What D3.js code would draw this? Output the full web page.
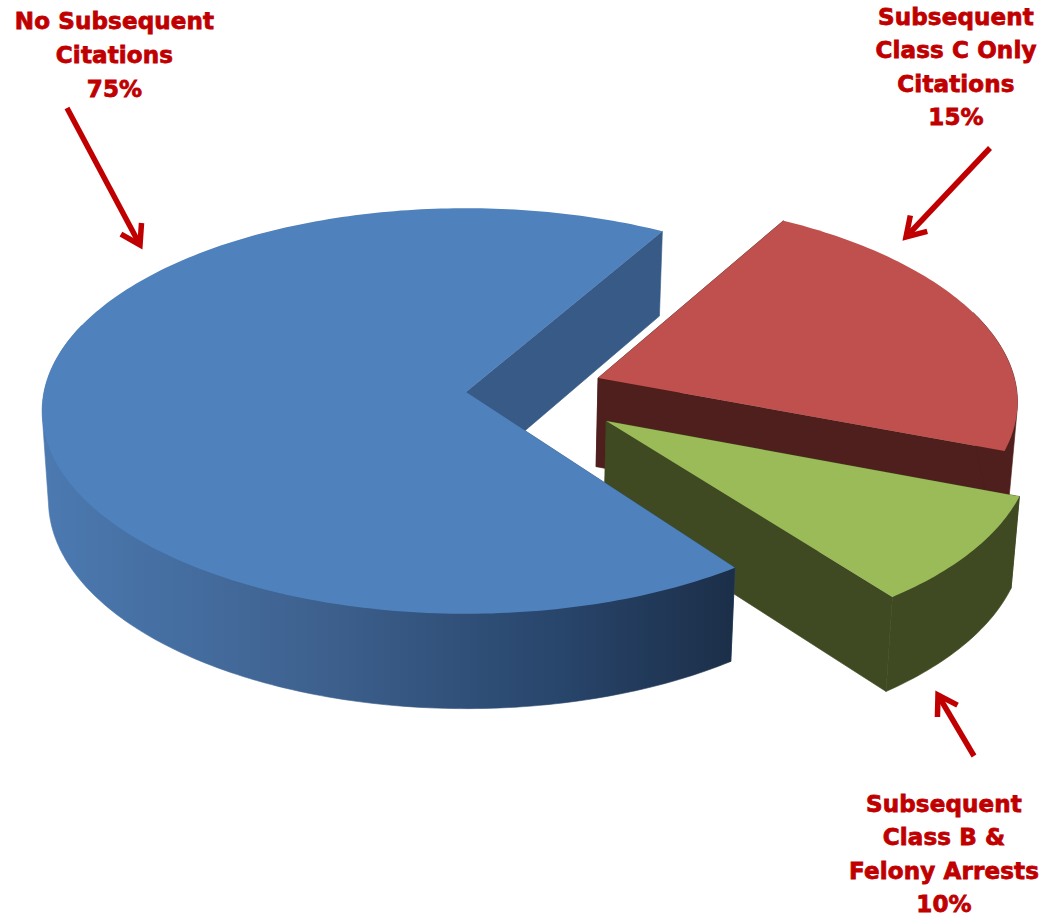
<!DOCTYPE html>
<html>
<head>
<meta charset="utf-8">
<script src="https://cdn.jsdelivr.net/npm/d3@7/dist/d3.min.js"></script>
<style>
html,body{margin:0;padding:0;background:#fff;overflow:hidden}
svg{display:block}
text{font-family:"DejaVu Sans",sans-serif;font-weight:700;font-size:23px;letter-spacing:.15px;fill:#c00000;stroke:#c00000;stroke-width:.8px;text-anchor:middle}
</style>
</head>
<body>
<script>
// Categories, in clockwise drawing order starting from the upper right of the pie
const categories = ["Subsequent Class C Only Citations", "Subsequent Class B & Felony Arrests", "No Subsequent Citations"];
// Printed percentages
const printedPercents = ["15%", "10%", "75%"];
// Share of the circle each slice occupies as drawn in the picture
const drawnShares = [22.3, 8.9, 68.8];
const topColors = ["#c0504d", "#9bbb59", "#4f81bd"];
const sideColors = ["#4f1f1d", "#3f4a22", "url(#blueRim)"];
const cutColors = ["#4f1f1d", "#3f4a22", "#375b86"];
const labelLines = [
  ["Subsequent", "Class C Only", "Citations", "15%"],
  ["Subsequent", "Class B &", "Felony Arrests", "10%"],
  ["No Subsequent", "Citations", "75%"]
];

const W = 1047, H = 923;
const cx = 466, cy = 392, Rx = 422, Ry = 201, camera = 10.68, depth = 89, shrink = 0.015;
const explode = [[0.315, -0.07], [0.328, 0.142], [0, 0]];
const radial = [0.993, 0.988, 1];
const deg = Math.PI / 180;
const angleNudge = [[-0.3, 0], [0, 0], [0.9, -0.5]];

const svg = d3.select("body").append("svg").attr("width", W).attr("height", H);
const defs = svg.append("defs");
const rimStops = [[48, "#4b79b0"], [300, "#3f6391"], [560, "#28456b"], [731, "#1c2f49"]];
const rimX = d3.scaleLinear().domain([48, 731]).range([0, 100]);
const grad = defs.append("linearGradient").attr("id", "blueRim").attr("gradientUnits", "userSpaceOnUse")
  .attr("x1", 48).attr("x2", 731).attr("y1", 0).attr("y2", 0);
rimStops.forEach(s => grad.append("stop").attr("offset", rimX(s[0]) + "%").attr("stop-color", s[1]));

const project = (X, Y, Z) => {
  const s = camera / (camera - Y), sz = 1 - shrink * Z;
  return [cx + Rx * X * s * sz, cy + Ry * Y * s * sz + depth * Z * s];
};

const pie = d3.pie().sort(null).value(d => d).startAngle(30.7 * deg).endAngle(390.7 * deg);
const arcs = pie(drawnShares);
const line = d3.line();

const arcPoints = (a0, a1, off, rr, Z) => {
  const n = Math.max(8, Math.ceil((a1 - a0) / deg));
  return d3.range(n + 1).map(i => {
    const t = a0 + (a1 - a0) * i / n;
    return project(off[0] + rr * Math.sin(t), off[1] - rr * Math.cos(t), Z);
  });
};

// Blue is in front of the two exploded slices, so it is painted last
arcs.forEach((a, i) => {
  const off = explode[i], rr = radial[i];
  const a0 = a.startAngle + angleNudge[i][0] * deg, a1 = a.endAngle + angleNudge[i][1] * deg;
  const g = svg.append("g").attr("class", "slice");
  const topArc = arcPoints(a0, a1, off, rr, 0);
  const apexTop = project(off[0], off[1], 0), apexBot = project(off[0], off[1], 1);
  const first = topArc[0], last = topArc[topArc.length - 1];
  const firstB = arcPoints(a0, a0, off, rr, 1)[0], lastB = arcPoints(a1, a1, off, rr, 1)[0];
  const paintSide = (d, fill) => g.append("path").attr("d", d).attr("fill", fill)
    .attr("stroke", fill).attr("stroke-width", 0.6).attr("stroke-linejoin", "round");
  // cut faces
  paintSide(line([apexTop, first, firstB, apexBot]) + "Z", cutColors[i]);
  paintSide(line([apexTop, last, lastB, apexBot]) + "Z", cutColors[i]);
  // outer rim: hull of the viewer-facing part, which gives straight silhouette sides
  const r0 = Math.max(a0, 70 * deg), r1 = Math.min(a1, 290 * deg);
  if (r1 > r0) {
    const hull = d3.polygonHull(arcPoints(r0, r1, off, rr, 0).concat(arcPoints(r0, r1, off, rr, 1)));
    paintSide(line(hull) + "Z", sideColors[i]);
  }
  // top face
  g.append("path").attr("d", line([apexTop].concat(topArc)) + "Z").attr("fill", topColors[i]);
});

// Labels
const labelPos = [[114.5, 29], [956, 25], [944, 812]];
const labelOrder = [2, 0, 1];
const labelStep = [34, 33.4, 33.4];
labelOrder.forEach((k, i) => {
  svg.append("text").selectAll("tspan").data(labelLines[k]).join("tspan")
    .attr("x", labelPos[i][0]).attr("y", (d, j) => labelPos[i][1] + j * labelStep[i]).text(d => d);
});

// Arrows
const arrows = [[[990, 148], [906, 237]], [[974, 756], [938, 695]], [[67, 108], [140, 245]]];
arrows.forEach(([from, to]) => {
  const ang = Math.atan2(from[1] - to[1], from[0] - to[0]), len = 22, spread = 32 * deg;
  const b1 = [to[0] + len * Math.cos(ang + spread), to[1] + len * Math.sin(ang + spread)];
  const b2 = [to[0] + len * Math.cos(ang - spread), to[1] + len * Math.sin(ang - spread)];
  svg.append("path").attr("d", line([from, to])).attr("stroke", "#c00000").attr("stroke-width", 5.5).attr("fill", "none");
  svg.append("path").attr("d", line([b1, to, b2])).attr("stroke", "#c00000").attr("stroke-width", 5.5).attr("fill", "none").attr("stroke-miterlimit", 10);
});
</script>
</body>
</html>
